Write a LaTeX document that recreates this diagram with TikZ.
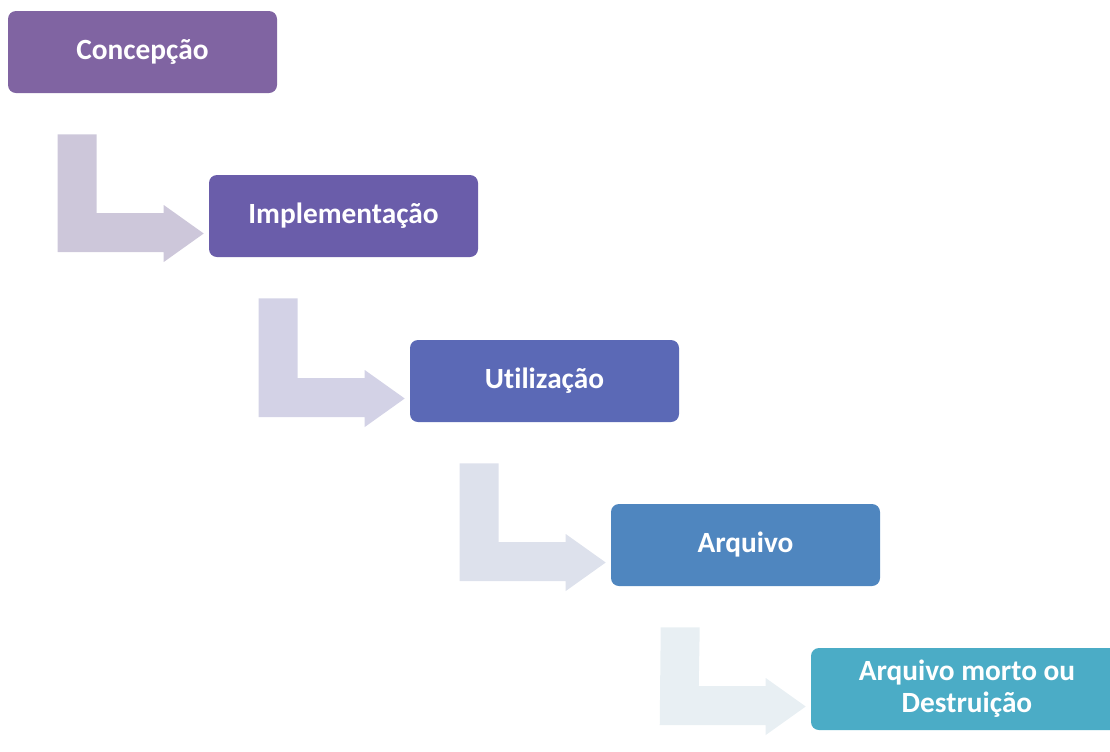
\documentclass[tikz,border=0pt]{standalone}
\usepackage{fontspec}
\setmainfont{Carlito}[Ligatures = NoCommon]
\usetikzlibrary{calc}

\definecolor{stepA}{HTML}{8064A2}
\definecolor{stepB}{HTML}{6A5DAA}
\definecolor{stepC}{HTML}{5B69B6}
\definecolor{stepD}{HTML}{4F86BF}
\definecolor{stepE}{HTML}{4BACC6}

\begin{document}
\begin{tikzpicture}[x = 0.75pt, y = -0.75pt,
                    phase/.style = {rectangle, rounded corners = 6pt, text = white,
                                    minimum width = 201.75pt, minimum height = 61.5pt,
                                    align = center, inner sep = 0pt,
                                    font = \fontsize{22}{24}\selectfont\bfseries}]
      \clip (0, 0) rectangle (1110, 751);

      \node [phase, fill = stepA] (C1) at (142.5, 52){Concepção};
      \node [phase, fill = stepB] (C2) at (343.5, 216){Implementação};
      \node [phase, fill = stepC] (C3) at (544.5, 381){Utilização};
      \node [phase, fill = stepD] (C4) at (745.5, 545){Arquivo};
      \node [phase, fill = stepE, minimum width = 234pt] (C5) at (967, 689){Arquivo morto ou\\Destruição};

      % bent arrows between the phases
      \foreach \a/\b/\c in {C1/C2/CDC7DA, C2/C3/D3D2E6, C3/C4/DDE1EC, C4/C5/E8EFF3}{
        \definecolor{bendcol}{HTML}{\c}
        \fill [fill = bendcol] ($(\a.south west) + (50, 41)$) -- ($(\a.south west) + (89, 41)$)
             -- ($(\b.west) + (-112, -3)$) -- ($(\b.west) + (-45, -3)$)
             -- ($(\b.west) + (-45, -11)$) -- ($(\b.west) + (-5, 17.5)$)
             -- ($(\b.west) + (-45, 46)$) -- ($(\b.west) + (-45, 36)$)
             -- ($(\b.west) + (-151, 36)$) -- cycle;
      }
\end{tikzpicture}
\end{document}
